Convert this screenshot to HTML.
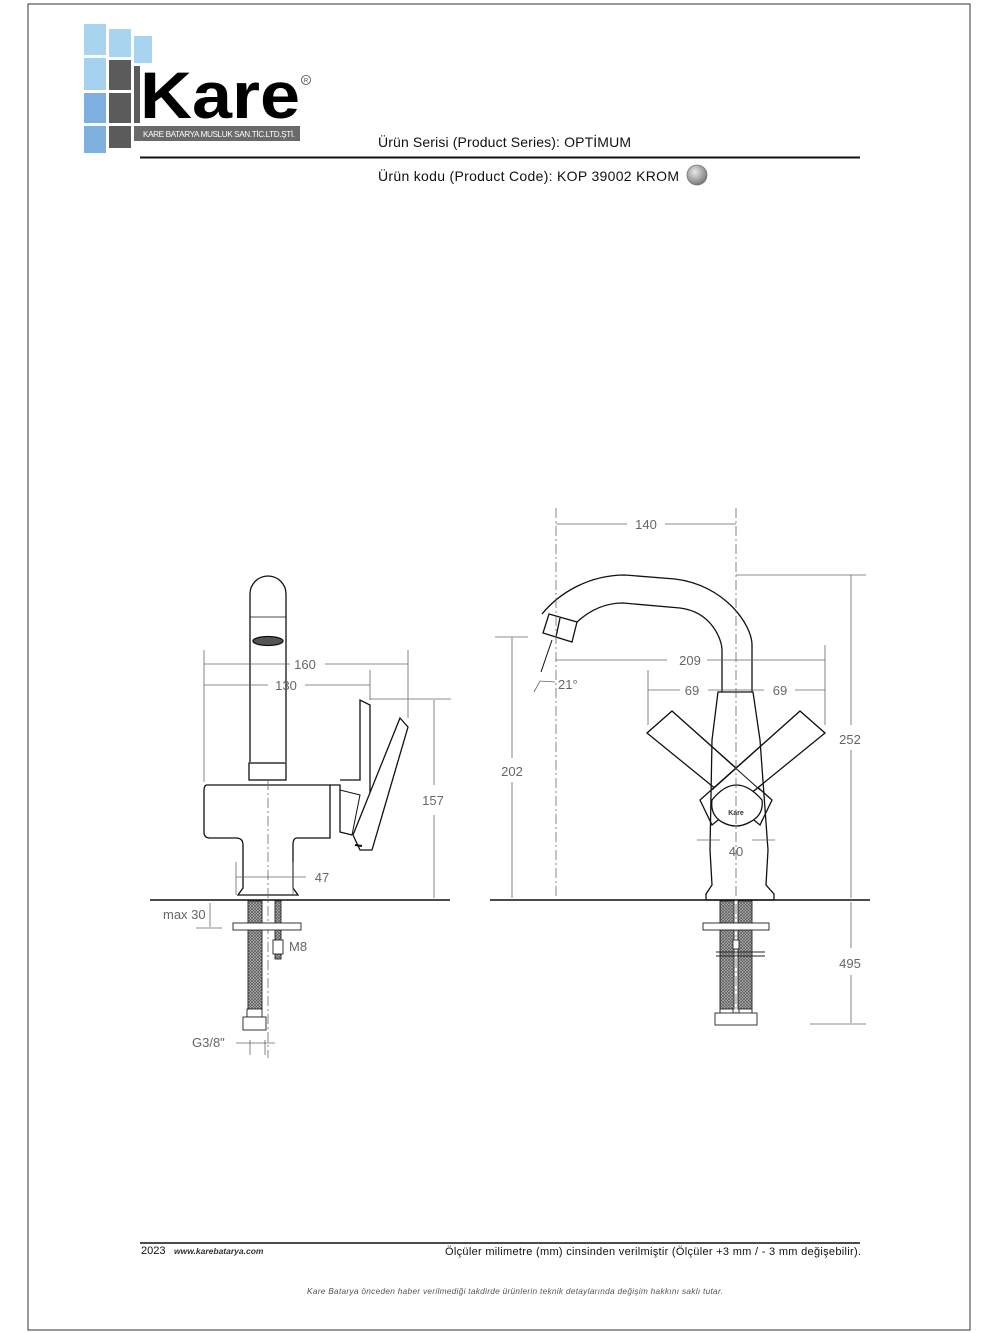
<!DOCTYPE html>
<html><head><meta charset="utf-8"><style>
html,body{margin:0;padding:0;background:#fff;}
svg{display:block;}
text{font-family:"Liberation Sans",sans-serif;}
</style></head><body>
<svg width="1000" height="1333" viewBox="0 0 1000 1333" xmlns="http://www.w3.org/2000/svg">
<defs>
<radialGradient id="g" cx="40%" cy="35%" r="65%"><stop offset="0" stop-color="#e8e8e8"/><stop offset="1" stop-color="#7a7a7a"/></radialGradient>
<pattern id="h" width="3" height="3" patternUnits="userSpaceOnUse"><rect width="3" height="3" fill="#bbb"/><path d="M0 3L3 0M0 0L3 3" stroke="#555" stroke-width="0.7"/></pattern>
</defs>
<rect x="28" y="4" width="942" height="1326" fill="none" stroke="#555" stroke-width="1.2"/>
<!-- logo -->
<g>
<rect x="84" y="24" width="22" height="31" fill="#a9d4f0"/>
<rect x="109" y="29" width="22" height="28" fill="#a9d4f0"/>
<rect x="134" y="36" width="18" height="27" fill="#a9d4f0"/>
<rect x="84" y="58" width="22" height="32" fill="#a5d0ee"/>
<rect x="84" y="93" width="22" height="30" fill="#7faee0"/>
<rect x="84" y="126" width="22" height="27" fill="#7fb0e0"/>
<rect x="109" y="60" width="22" height="30" fill="#5b5b5b"/>
<rect x="109" y="93" width="22" height="30" fill="#5b5b5b"/>
<rect x="109" y="126" width="22" height="22" fill="#5b5b5b"/>
<rect x="134" y="66" width="6" height="57" fill="#5b5b5b"/>
<rect x="134" y="126" width="166" height="15" fill="#6a6a6a"/>
<text x="143" y="137" font-size="8.2" fill="#fff" textLength="152">KARE BATARYA MUSLUK SAN.TİC.LTD.ŞTİ.</text>
<text x="140" y="118" font-size="66" font-weight="bold" fill="#000" textLength="160" lengthAdjust="spacingAndGlyphs">Kare</text>
<circle cx="306" cy="80" r="4.5" fill="none" stroke="#444" stroke-width="0.8"/>
<text x="306" y="82.5" font-size="6" text-anchor="middle" fill="#444">R</text>
</g>
<!-- header -->
<text x="378" y="147" font-size="14" fill="#111" textLength="253">Ürün Serisi (Product Series): OPTİMUM</text>
<line x1="140" y1="157.5" x2="860" y2="157.5" stroke="#111" stroke-width="2"/>
<text x="378" y="181" font-size="14" fill="#111" textLength="301">Ürün kodu (Product Code): KOP 39002  KROM</text>
<circle cx="697" cy="175" r="10" fill="url(#g)" stroke="#777" stroke-width="0.8"/>
<!-- footer -->
<line x1="140" y1="1243" x2="860" y2="1243" stroke="#111" stroke-width="1.5"/>
<text x="141" y="1254" font-size="11" fill="#111">2023</text>
<text x="174" y="1254" font-size="8.5" font-style="italic" font-weight="bold" fill="#333">www.karebatarya.com</text>
<text x="445" y="1255" font-size="11" fill="#111" textLength="416">Ölçüler milimetre (mm) cinsinden verilmiştir (Ölçüler  +3 mm / - 3 mm değişebilir).</text>
<text x="307" y="1294" font-size="8.3" font-style="italic" fill="#555" textLength="416">Kare Batarya önceden haber verilmediği takdirde ürünlerin teknik detaylarında değişim hakkını saklı tutar.</text>

<!-- LEFT DRAWING -->
<g fill="none" stroke="#111" stroke-width="1.3">
<path d="M250 762 V594 A18 18 0 0 1 286 594 V762"/>
<line x1="250" y1="617" x2="286" y2="617" stroke-width="0.8"/>
<ellipse cx="268" cy="641" rx="15" ry="4.5" fill="#555"/>
<rect x="249" y="763" width="37" height="17"/>
<path d="M207 785 H330 V838 H297 Q293 838 293 845 V888 L298 895 H238 L243 888 V845 Q243 838 236 838 H210 Q204 838 204 832 V791 Q204 785 207 785Z"/>
<!-- handle -->
<path d="M340 780 H360 V700 L370 705 V835"/>
<path d="M330 785 H340 V832 L352 835"/>
<path d="M340 790 L360 795 L352 835" stroke-width="1"/>
<path d="M400 718 L408 727 L372 850 L360 850 L353 835 Z" fill="#fff"/>
<path d="M355 845 L362 846" stroke-width="2"/>
</g>
<g stroke="#666" stroke-width="0.8" fill="none">
<line x1="268" y1="780" x2="268" y2="1058" stroke-dasharray="10,3,2,3"/>
<line x1="150" y1="900" x2="450" y2="900" stroke="#111" stroke-width="1.5"/>
<line x1="204" y1="650" x2="204" y2="782"/>
<line x1="408" y1="650" x2="408" y2="718"/>
<line x1="370" y1="670" x2="370" y2="700"/>
<line x1="204" y1="664" x2="290" y2="664"/><line x1="325" y1="664" x2="408" y2="664"/>
<line x1="204" y1="685" x2="268" y2="685"/><line x1="305" y1="685" x2="370" y2="685"/>
<line x1="370" y1="699" x2="451" y2="699"/>
<line x1="434" y1="700" x2="434" y2="785"/><line x1="434" y1="815" x2="434" y2="898"/>
<line x1="236" y1="862" x2="236" y2="895"/><line x1="293" y1="862" x2="293" y2="895"/>
<line x1="236" y1="877" x2="306" y2="877"/>
<line x1="196" y1="928" x2="222" y2="928"/><line x1="210" y1="903" x2="210" y2="927"/>
<line x1="250" y1="1040" x2="250" y2="1055"/><line x1="265" y1="1040" x2="265" y2="1055"/>
<line x1="236" y1="1043" x2="275" y2="1043"/>
</g>
<g font-size="13" fill="#666">
<text x="305" y="669" text-anchor="middle">160</text>
<text x="286" y="690" text-anchor="middle">130</text>
<text x="433" y="805" text-anchor="middle">157</text>
<text x="322" y="882" text-anchor="middle">47</text>
<text x="163" y="919">max 30</text>
<text x="289" y="951">M8</text>
<text x="192" y="1047">G3/8"</text>
</g>
<g stroke="#222" stroke-width="0.9">
<rect x="248" y="901" width="14" height="108" fill="url(#h)"/>
<rect x="275" y="901" width="6" height="58" fill="url(#h)"/>
<rect x="273" y="940" width="10" height="14" fill="#fff"/>
<rect x="233" y="923" width="68" height="7" fill="#fff"/>
<rect x="247" y="1009" width="15" height="8" fill="#fff"/>
<rect x="243" y="1017" width="23" height="13" fill="#fff"/>
</g>

<!-- RIGHT DRAWING -->
<g fill="none" stroke="#111" stroke-width="1.3">
<path d="M542 614 C560 592 590 575 625 575 L675 579 C725 585 752 625 752 645 V692"/>
<path d="M577 622 C590 610 605 603 623 603 L680 608 C712 612 722 640 722 650 V692"/>
<path d="M549 614 L577 622 L572 642 L543 633 Z"/>
<line x1="560" y1="618" x2="556" y2="637"/>
<path d="M647 733 L672 711 L772 800 L760 825 Z" fill="#fff"/>
<path d="M825 733 L800 711 L700 800 L712 825 Z" fill="#fff"/>
<path d="M718 692 H753 L760 740 L768 850 L766 885 L774 894 V900 H706 V894 L712 885 L710 850 L712 740 Z"/>
<path d="M647 733 L672 711 L760 790" stroke-width="1"/>
<path d="M825 733 L800 711 L712 790" stroke-width="1"/>
<path d="M712 800 Q736 770 762 800 Q764 815 750 822 Q736 830 722 822 Q710 815 712 800 Z" fill="#fff"/>
<line x1="552" y1="640" x2="541" y2="672" stroke-width="1"/>
</g>
<text x="736" y="815" font-size="7" font-weight="bold" fill="#333" text-anchor="middle">Kare</text>
<g stroke="#666" stroke-width="0.8" fill="none">
<line x1="490" y1="900" x2="870" y2="900" stroke="#111" stroke-width="1.5"/>
<line x1="556" y1="508" x2="556" y2="898" stroke-dasharray="10,3,2,3"/>
<line x1="736" y1="508" x2="736" y2="1020" stroke-dasharray="10,3,2,3"/>
<line x1="556" y1="524" x2="627" y2="524"/><line x1="665" y1="524" x2="736" y2="524"/>
<line x1="556" y1="660" x2="667" y2="660"/><line x1="707" y1="660" x2="825" y2="660"/>
<line x1="825" y1="645" x2="825" y2="725"/><line x1="648" y1="670" x2="648" y2="725"/>
<line x1="648" y1="690" x2="680" y2="690"/><line x1="708" y1="690" x2="764" y2="690"/><line x1="795" y1="690" x2="825" y2="690"/>
<line x1="697" y1="840" x2="720" y2="840"/><line x1="752" y1="840" x2="775" y2="840"/>
<line x1="495" y1="637" x2="528" y2="637"/>
<line x1="512" y1="637" x2="512" y2="758"/><line x1="512" y1="782" x2="512" y2="898"/>
<path d="M534 692 L540 681 L555 682"/>
<line x1="736" y1="575" x2="866" y2="575"/>
<line x1="851" y1="575" x2="851" y2="725"/><line x1="851" y1="750" x2="851" y2="898"/>
<line x1="851" y1="902" x2="851" y2="948"/><line x1="851" y1="975" x2="851" y2="1023"/>
<line x1="810" y1="1024" x2="866" y2="1024"/>
</g>
<g font-size="13" fill="#666">
<text x="646" y="529" text-anchor="middle">140</text>
<text x="690" y="665" text-anchor="middle">209</text>
<text x="692" y="695" text-anchor="middle">69</text>
<text x="780" y="695" text-anchor="middle">69</text>
<text x="736" y="856" text-anchor="middle">40</text>
<text x="558" y="689">21°</text>
<text x="512" y="776" text-anchor="middle">202</text>
<text x="850" y="744" text-anchor="middle">252</text>
<text x="850" y="968" text-anchor="middle">495</text>
</g>
<g stroke="#222" stroke-width="0.9">
<rect x="720" y="901" width="14" height="108" fill="url(#h)"/>
<rect x="738" y="901" width="14" height="108" fill="url(#h)"/>
<rect x="703" y="923" width="66" height="7" fill="#fff"/>
<rect x="733" y="940" width="6" height="9" fill="#fff"/>
<line x1="716" y1="952" x2="765" y2="952"/><line x1="716" y1="956" x2="765" y2="956"/>
<rect x="720" y="1009" width="13" height="10" fill="#fff"/>
<rect x="739" y="1009" width="13" height="10" fill="#fff"/>
<rect x="715" y="1013" width="42" height="12" fill="#fff"/>
</g>
</svg>
</body></html>
